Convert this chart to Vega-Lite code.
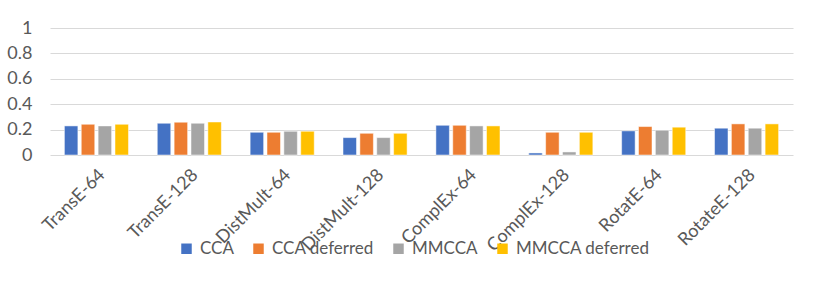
{
  "$schema": "https://vega.github.io/schema/vega-lite/v6.json",
  "width": 743,
  "height": 127,
  "autosize": {"type": "none"},
  "padding": {"left": 50, "top": 28, "right": 38, "bottom": 126},
  "background": "white",
  "data": {
    "values": [
      {"model": "TransE-64", "series": "CCA", "value": 0.229},
      {"model": "TransE-64", "series": "CCA deferred", "value": 0.242},
      {"model": "TransE-64", "series": "MMCCA", "value": 0.229},
      {"model": "TransE-64", "series": "MMCCA deferred", "value": 0.242},
      {"model": "TransE-128", "series": "CCA", "value": 0.25},
      {"model": "TransE-128", "series": "CCA deferred", "value": 0.258},
      {"model": "TransE-128", "series": "MMCCA", "value": 0.25},
      {"model": "TransE-128", "series": "MMCCA deferred", "value": 0.26},
      {"model": "DistMult-64", "series": "CCA", "value": 0.179},
      {"model": "DistMult-64", "series": "CCA deferred", "value": 0.179},
      {"model": "DistMult-64", "series": "MMCCA", "value": 0.187},
      {"model": "DistMult-64", "series": "MMCCA deferred", "value": 0.187},
      {"model": "DistMult-128", "series": "CCA", "value": 0.137},
      {"model": "DistMult-128", "series": "CCA deferred", "value": 0.171},
      {"model": "DistMult-128", "series": "MMCCA", "value": 0.137},
      {"model": "DistMult-128", "series": "MMCCA deferred", "value": 0.171},
      {"model": "ComplEx-64", "series": "CCA", "value": 0.234},
      {"model": "ComplEx-64", "series": "CCA deferred", "value": 0.234},
      {"model": "ComplEx-64", "series": "MMCCA", "value": 0.229},
      {"model": "ComplEx-64", "series": "MMCCA deferred", "value": 0.229},
      {"model": "ComplEx-128", "series": "CCA", "value": 0.016},
      {"model": "ComplEx-128", "series": "CCA deferred", "value": 0.179},
      {"model": "ComplEx-128", "series": "MMCCA", "value": 0.024},
      {"model": "ComplEx-128", "series": "MMCCA deferred", "value": 0.179},
      {"model": "RotatE-64", "series": "CCA", "value": 0.19},
      {"model": "RotatE-64", "series": "CCA deferred", "value": 0.224},
      {"model": "RotatE-64", "series": "MMCCA", "value": 0.195},
      {"model": "RotatE-64", "series": "MMCCA deferred", "value": 0.219},
      {"model": "RotateE-128", "series": "CCA", "value": 0.211},
      {"model": "RotateE-128", "series": "CCA deferred", "value": 0.245},
      {"model": "RotateE-128", "series": "MMCCA", "value": 0.211},
      {"model": "RotateE-128", "series": "MMCCA deferred", "value": 0.245}
    ]
  },
  "mark": {"type": "bar", "stroke": "white", "strokeWidth": 0.5},
  "encoding": {
    "x": {
      "field": "model",
      "type": "nominal",
      "sort": null,
      "scale": {"paddingInner": 0.31, "paddingOuter": 0.155},
      "axis": {
        "title": null,
        "labelAngle": -45,
        "labelAlign": "right",
        "labelBaseline": "middle",
        "labelPadding": 17,
        "labelOffset": 6,
        "ticks": false,
        "domain": false,
        "labelFont": "Lato",
        "labelFontSize": 18,
        "labelColor": "#595959"
      }
    },
    "xOffset": {
      "field": "series",
      "type": "nominal",
      "sort": ["CCA", "CCA deferred", "MMCCA", "MMCCA deferred"],
      "scale": {"paddingInner": 0.2}
    },
    "y": {
      "field": "value",
      "type": "quantitative",
      "scale": {"domain": [0, 1], "nice": false},
      "axis": {
        "title": null,
        "values": [0, 0.2, 0.4, 0.6, 0.8, 1],
        "format": "~g",
        "ticks": false,
        "domain": false,
        "labelPadding": 18,
        "labelFont": "Lato",
        "labelFontSize": 18,
        "labelColor": "#595959",
        "gridColor": "#D9D9D9",
        "gridWidth": 1.2
      }
    },
    "color": {
      "field": "series",
      "type": "nominal",
      "sort": ["CCA", "CCA deferred", "MMCCA", "MMCCA deferred"],
      "scale": {"range": ["#4472C4", "#ED7D31", "#A5A5A5", "#FFC000"]},
      "legend": {
        "title": null,
        "orient": "none",
        "direction": "horizontal",
        "legendX": 128,
        "legendY": 212,
        "symbolType": "square",
        "symbolSize": 110,
        "symbolStrokeWidth": 0,
        "labelFont": "Lato",
        "labelFontSize": 17,
        "labelColor": "#595959",
        "columnPadding": 16,
        "labelOffset": 5
      }
    }
  },
  "config": {
    "view": {"stroke": null}
  }
}
